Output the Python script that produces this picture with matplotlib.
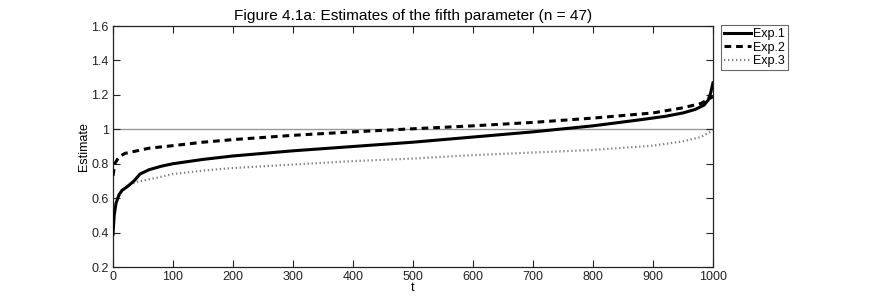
import matplotlib
matplotlib.use("Agg")
import matplotlib.pyplot as plt

plt.rcParams['font.family'] = ['Liberation Sans', 'DejaVu Sans']

# Exp.1 (solid)
t1 = [0, 2, 5, 10, 15, 25, 35, 45, 60, 80, 100, 150, 200, 300, 400, 500, 600,
      700, 800, 878, 920, 950, 970, 985, 992, 996, 1000]
e1 = [0.39, 0.50, 0.57, 0.62, 0.645, 0.67, 0.70, 0.74, 0.765, 0.785, 0.80, 0.825,
      0.845, 0.875, 0.90, 0.925, 0.955, 0.985, 1.02, 1.055, 1.075, 1.095, 1.115,
      1.14, 1.17, 1.21, 1.27]
# Exp.2 (dashed)
t2 = [0, 3, 10, 20, 40, 60, 100, 150, 200, 300, 400, 500, 600, 700, 800, 900,
      950, 980, 1000]
e2 = [0.73, 0.80, 0.84, 0.86, 0.875, 0.89, 0.905, 0.925, 0.94, 0.965, 0.985, 1.003,
      1.02, 1.04, 1.065, 1.095, 1.125, 1.15, 1.19]
# Exp.3 (dotted)
t3 = [0, 5, 15, 25, 40, 75, 100, 150, 200, 300, 400, 500, 600, 700, 800, 900,
      950, 980, 1000]
e3 = [0.50, 0.58, 0.64, 0.675, 0.695, 0.72, 0.74, 0.76, 0.775, 0.795, 0.815, 0.83,
      0.85, 0.865, 0.88, 0.905, 0.93, 0.955, 0.995]

xticks = [0, 100, 200, 300, 400, 500, 600, 700, 800, 900, 1000]
yticks = [0.2, 0.4, 0.6, 0.8, 1.0, 1.2, 1.4, 1.6]
ytlabels = ['0.2', '0.4', '0.6', '0.8', '1', '1.2', '1.4', '1.6']

fig = plt.figure(figsize=(8.72, 3.0), dpi=100)
ax = fig.add_axes([113/872, 1-267/300, 600/872, 241/300])

ax.axhline(1.0, color='#999999', lw=1.0, zorder=1)
ax.plot(t1, e1, color='black', lw=2.2, ls='-', label='Exp.1', zorder=3)
ax.plot(t2, e2, color='black', lw=2.2, ls=(0, (2.2, 1.6)), label='Exp.2', zorder=3)
ax.plot(t3, e3, color='#808080', lw=1.6, ls=(0, (0.6, 1.2)), label='Exp.3', zorder=2)

ax.set_xlim(0, 1000)
ax.set_ylim(0.2, 1.6)
ax.set_xticks(xticks)
ax.set_xticklabels([str(v) for v in xticks])
ax.set_yticks(yticks)
ax.set_yticklabels(ytlabels)
ax.tick_params(direction='in', length=5, width=0.8, labelsize=9, top=True, right=True,
               colors='#222222', pad=3)
for s in ax.spines.values():
    s.set_linewidth(0.9)
    s.set_color('#222222')

ax.set_title('Figure 4.1a: Estimates of the fifth parameter (n = 47)', fontsize=11.1, pad=4)
ax.set_xlabel('t', fontsize=9, labelpad=-1)
ax.set_ylabel('Estimate', fontsize=9, labelpad=1)

leg = ax.legend(loc='upper left', bbox_to_anchor=(1.013, 1.003), fontsize=9,
                frameon=True, fancybox=False, edgecolor='#444444', handlelength=2.2,
                handletextpad=0.1, borderpad=0.25, labelspacing=0.1, borderaxespad=0)
leg.get_frame().set_linewidth(0.8)

fig.savefig('out.png', dpi=100)
